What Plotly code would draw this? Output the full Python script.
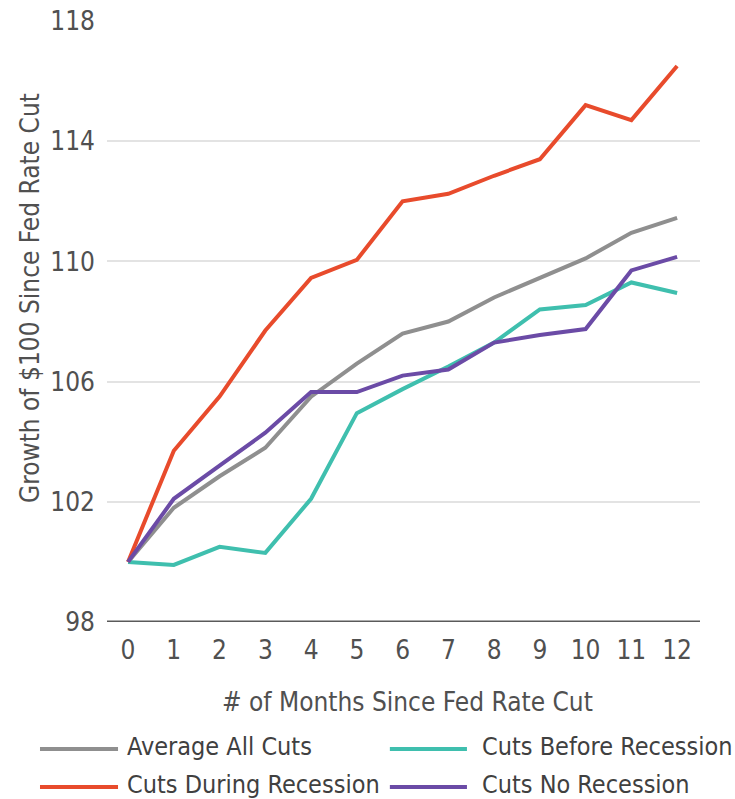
import plotly.graph_objects as go

months = list(range(13))
tick_vals_y = [98, 102, 106, 110, 114, 118]

average_all = [100, 101.8, 102.85, 103.8, 105.5, 106.6, 107.6, 108.0, 108.8, 109.45, 110.1, 110.95, 111.45]
before_recession = [100, 99.9, 100.5, 100.3, 102.1, 104.95, 105.75, 106.5, 107.3, 108.4, 108.55, 109.3, 108.95]
during_recession = [100, 103.7, 105.5, 107.7, 109.45, 110.05, 112.0, 112.25, 112.85, 113.4, 115.2, 114.7, 116.5]
no_recession = [100, 102.1, 103.2, 104.3, 105.65, 105.65, 106.2, 106.4, 107.3, 107.55, 107.75, 109.7, 110.15]

series = [
    ("Average All Cuts", average_all, "#8f8f8f"),
    ("Cuts Before Recession", before_recession, "#3fbfae"),
    ("Cuts During Recession", during_recession, "#e84b2c"),
    ("Cuts No Recession", no_recession, "#6b4ba6"),
]

FONT = "DejaVu Sans Condensed, Liberation Sans Narrow, Arial Narrow, sans-serif"
TXT = "#505050"

fig = go.Figure()
for name, vals, color in series:
    fig.add_trace(go.Scatter(
        x=months, y=vals, name=name, mode="lines",
        line=dict(color=color, width=4), showlegend=False,
    ))

fig.update_layout(
    width=735, height=799,
    margin=dict(l=107, r=35, t=21, b=177, autoexpand=False),
    paper_bgcolor="white", plot_bgcolor="white",
    font=dict(family=FONT, color=TXT, size=26),
    showlegend=False,
)

fig.update_xaxes(
    range=[-0.46, 12.5], tickvals=months, ticktext=[str(m) for m in months],
    showgrid=False, zeroline=False, showline=False, ticks="",
    tickfont=dict(size=26, color=TXT), ticklabelstandoff=10,
)
fig.update_yaxes(
    range=[98, 118], tickvals=tick_vals_y, ticktext=[str(v) for v in tick_vals_y],
    showgrid=True, gridcolor="#e3e3e3", gridwidth=2, zeroline=False,
    showline=False, ticks="", tickfont=dict(size=26, color=TXT),
    ticklabelstandoff=11,
)

# dark baseline along the bottom of the plotting area
fig.add_shape(type="line", xref="paper", yref="y", x0=0, x1=1, y0=98, y1=98,
              line=dict(color="#5a5a5a", width=3), layer="above")

fig.add_annotation(
    text="Growth of $100 Since Fed Rate Cut", textangle=-90,
    xref="paper", yref="paper", x=-0.13, y=0.539, xanchor="center", yanchor="middle",
    showarrow=False, font=dict(size=26, color=TXT),
)
fig.add_annotation(
    text="# of Months Since Fed Rate Cut",
    xref="paper", yref="paper", x=0.506, y=-0.133, xanchor="center", yanchor="middle",
    showarrow=False, font=dict(size=26, color=TXT),
)

# two-column legend below the axis title
legend_slots = [
    (-0.113, 0.0186, 0.0304, -0.2113),
    (0.477, 0.607, 0.629, -0.2113),
    (-0.113, 0.0186, 0.0304, -0.2745),
    (0.477, 0.607, 0.629, -0.2745),
]
for (name, _, color), (lx0, lx1, tx, ly) in zip(series, legend_slots):
    fig.add_shape(type="line", xref="paper", yref="paper", x0=lx0, x1=lx1,
                  y0=ly, y1=ly, line=dict(color=color, width=4))
    fig.add_annotation(
        text=name, xref="paper", yref="paper", x=tx, y=ly + 0.004,
        xanchor="left", yanchor="middle", showarrow=False,
        font=dict(size=25, color="#404040"),
    )

fig.write_html("out.html")
